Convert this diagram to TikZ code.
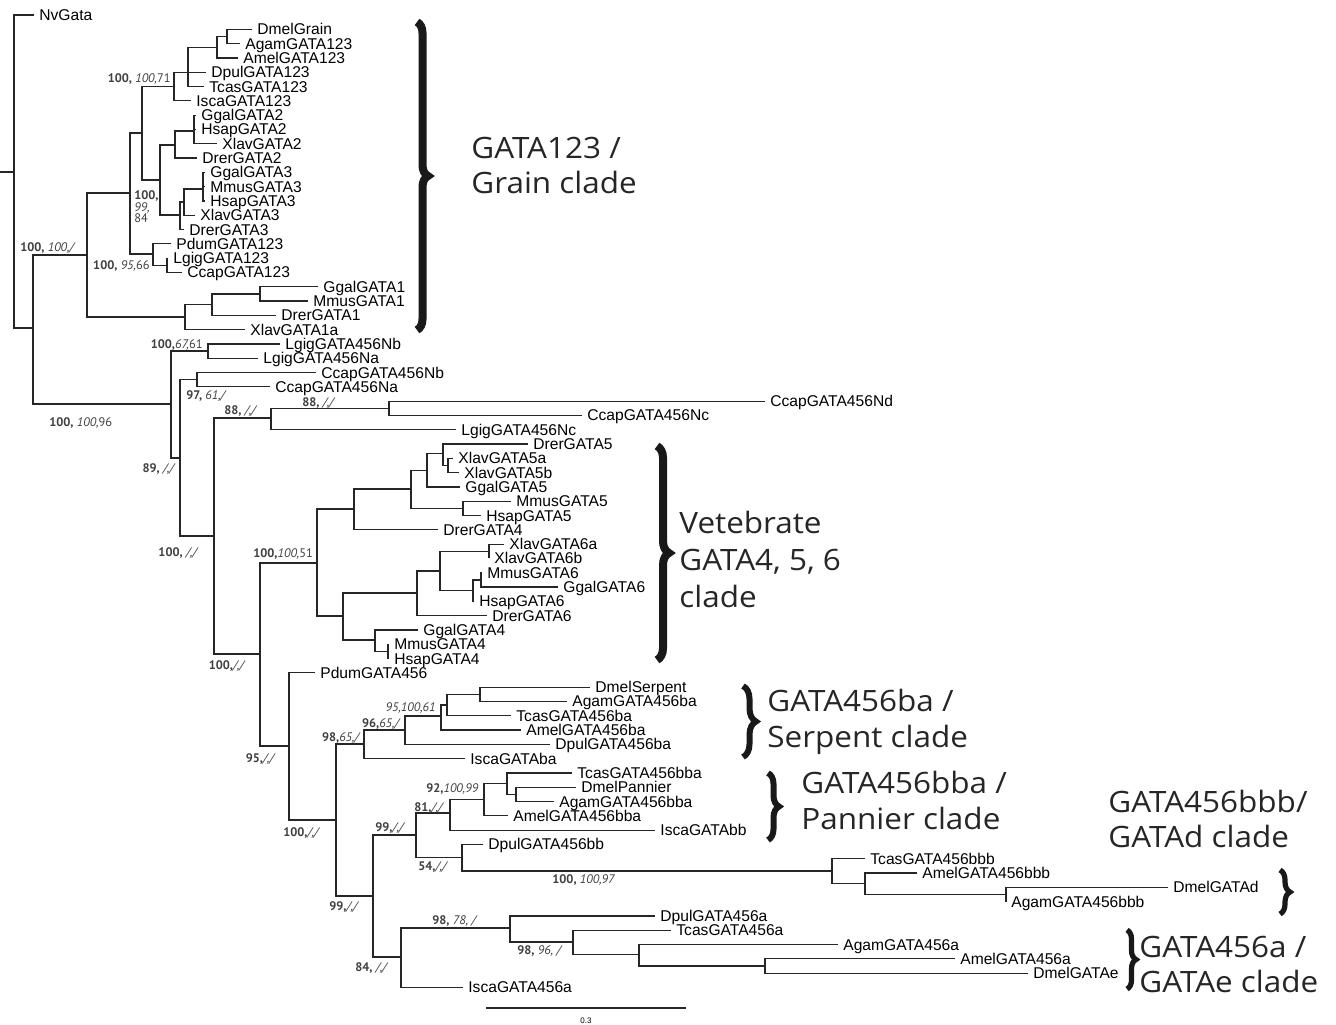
\documentclass[tikz,border=0pt]{standalone}
\usepackage{fontspec}
\setmainfont{Liberation Sans}
\newfontfamily\supfont{PT Sans}
\newfontfamily\cladefont[FakeStretch=1.07]{Open Sans}
\usetikzlibrary{decorations.pathreplacing}
\newcommand{\br}[3]{\draw[tree] (#2) -| (#1) |- (#3);}
\newcommand{\brm}[2]{\draw[tree] (#1 |- #2) -- (#2);}
\newcommand{\leafnode}[4]{\node[leaf] (#1) at (#2,#3) {#4};}
\begin{document}
\begin{tikzpicture}[x=0.5pt,y=-0.5pt,
  tree/.style={line width=0.6pt, black!85, line join=miter},
  leaf/.style={anchor=west, inner xsep=2.5pt, inner ysep=0pt, text height=5.55pt, text depth=0pt, font=\fontsize{7.8}{8}\selectfont},
  sup/.style={inner sep=0pt, text height=4.3pt, text depth=0pt, font=\supfont\fontsize{6.2}{7}\selectfont, text=black!75},
  clade/.style={anchor=base west, inner sep=0pt, font=\cladefont\fontsize{14.7}{18}\selectfont, text=black!85},
  cbrace/.style={decorate, decoration={brace, amplitude=#1}, black!90}]
\fill[white] (0,0) rectangle (1336,1024);
\useasboundingbox (0,0) rectangle (1336,1024);

% ---------- leaves ----------
\leafnode{nv}{34}{15}{NvGata}
\leafnode{dmgrain}{252}{29.3}{DmelGrain}
\leafnode{ag123}{240}{43.6}{AgamGATA123}
\leafnode{am123}{238}{57.9}{AmelGATA123}
\leafnode{dp123}{206}{72.2}{DpulGATA123}
\leafnode{tc123}{204}{86.5}{TcasGATA123}
\leafnode{is123}{191}{100.8}{IscaGATA123}
\leafnode{gg2}{196}{115.1}{GgalGATA2}
\leafnode{hs2}{196}{129.4}{HsapGATA2}
\leafnode{xl2}{217}{143.7}{XlavGATA2}
\leafnode{dr2}{197}{158}{DrerGATA2}
\leafnode{gg3}{205}{172.3}{GgalGATA3}
\leafnode{mm3}{205}{186.6}{MmusGATA3}
\leafnode{hs3}{205}{200.9}{HsapGATA3}
\leafnode{xl3}{195}{215.2}{XlavGATA3}
\leafnode{dr3}{184}{229.5}{DrerGATA3}
\leafnode{pd123}{171}{243.8}{PdumGATA123}
\leafnode{lg123}{168}{258.1}{LgigGATA123}
\leafnode{cc123}{182}{272.4}{CcapGATA123}
\leafnode{gg1}{318}{286.7}{GgalGATA1}
\leafnode{mm1}{308}{301}{MmusGATA1}
\leafnode{dr1}{276}{315.3}{DrerGATA1}
\leafnode{xl1a}{245}{329.6}{XlavGATA1a}
\leafnode{lgnb}{280}{343.9}{LgigGATA456Nb}
\leafnode{lgna}{258}{358.2}{LgigGATA456Na}
\leafnode{ccnb}{316}{372.5}{CcapGATA456Nb}
\leafnode{ccna}{270}{386.8}{CcapGATA456Na}
\leafnode{ccnd}{765}{401.1}{CcapGATA456Nd}
\leafnode{ccnc}{582}{415.4}{CcapGATA456Nc}
\leafnode{lgnc}{456}{429.7}{LgigGATA456Nc}
\leafnode{dr5}{528}{444}{DrerGATA5}
\leafnode{xl5a}{453}{458.3}{XlavGATA5a}
\leafnode{xl5b}{459}{472.6}{XlavGATA5b}
\leafnode{gg5}{460}{486.9}{GgalGATA5}
\leafnode{mm5}{511}{501.2}{MmusGATA5}
\leafnode{hs5}{481}{515.5}{HsapGATA5}
\leafnode{dr4}{438}{529.8}{DrerGATA4}
\leafnode{xl6a}{504}{544.1}{XlavGATA6a}
\leafnode{xl6b}{489}{558.4}{XlavGATA6b}
\leafnode{mm6}{482}{572.7}{MmusGATA6}
\leafnode{gg6}{558}{587}{GgalGATA6}
\leafnode{hs6}{474}{601.3}{HsapGATA6}
\leafnode{dr6}{487}{615.6}{DrerGATA6}
\leafnode{gg4}{418}{629.9}{GgalGATA4}
\leafnode{mm4}{389}{644.2}{MmusGATA4}
\leafnode{hs4}{389}{658.5}{HsapGATA4}
\leafnode{pd456}{315}{672.8}{PdumGATA456}
\leafnode{dmserp}{590}{687.1}{DmelSerpent}
\leafnode{agba}{567}{701.4}{AgamGATA456ba}
\leafnode{tcba}{511}{715.7}{TcasGATA456ba}
\leafnode{amba}{521}{730}{AmelGATA456ba}
\leafnode{dpba}{550}{744.3}{DpulGATA456ba}
\leafnode{isba}{465}{758.6}{IscaGATAba}
\leafnode{tcbba}{572}{772.9}{TcasGATA456bba}
\leafnode{dmpan}{576}{787.2}{DmelPannier}
\leafnode{agbba}{554}{801.5}{AgamGATA456bba}
\leafnode{ambba}{508}{815.8}{AmelGATA456bba}
\leafnode{isbb}{655}{830.1}{IscaGATAbb}
\leafnode{dpbb}{483}{844.4}{DpulGATA456bb}
\leafnode{tcbbb}{865}{858.7}{TcasGATA456bbb}
\leafnode{ambbb}{917}{873}{AmelGATA456bbb}
\leafnode{dmd}{1168}{887.3}{DmelGATAd}
\leafnode{agbbb}{1006}{901.6}{AgamGATA456bbb}
\leafnode{dpa}{655}{915.9}{DpulGATA456a}
\leafnode{tca}{671}{930.2}{TcasGATA456a}
\leafnode{aga}{838}{944.5}{AgamGATA456a}
\leafnode{ama}{955}{958.8}{AmelGATA456a}
\leafnode{dme}{1028}{973.1}{DmelGATAe}
\leafnode{isa}{463}{987.4}{IscaGATA456a}

% ---------- internal nodes ----------
\coordinate (rootstub) at (0,172);
\coordinate (root) at (14,172);
\coordinate (A) at (33,328);
\coordinate (B) at (87,255);
\coordinate (C) at (130,193);
\coordinate (D) at (142,133);
\coordinate (n174) at (174,86.5);
\coordinate (n188) at (188,72.2);
\coordinate (n217) at (217,47.2);
\coordinate (n227) at (227,36.5);
\coordinate (E) at (160,180);
\coordinate (n175) at (175,145);
\coordinate (n194) at (194,131);
\coordinate (n180) at (180,215);
\coordinate (n184) at (184,202);
\coordinate (n203) at (203,189);
\coordinate (loph) at (153,254);
\coordinate (n167) at (167,265.3);
\coordinate (g1) at (185,317);
\coordinate (n212) at (212,304.6);
\coordinate (n260) at (260,293.9);
\coordinate (G) at (171,404);
\coordinate (n208) at (208,351);
\coordinate (H) at (180,458);
\coordinate (n197) at (197,379.6);
\coordinate (J) at (214,536);
\coordinate (n271) at (271,418);
\coordinate (n389) at (389,408.3);
\coordinate (K) at (260,654);
\coordinate (VV) at (317,563);
\coordinate (n354) at (354,509);
\coordinate (n411) at (411,489);
\coordinate (n427) at (427,470.5);
\coordinate (n443) at (443,453.5);
\coordinate (n448) at (448,465.5);
\coordinate (n463) at (463,508.4);
\coordinate (n343) at (343,616);
\coordinate (n417) at (417,593);
\coordinate (n440) at (440,571);
\coordinate (n489) at (489,551.3);
\coordinate (n473) at (473,590.6);
\coordinate (n481) at (481,579.9);
\coordinate (n375) at (375,640);
\coordinate (n388) at (388,651.4);
\coordinate (L) at (289,746);
\coordinate (M) at (336,820);
\coordinate (N) at (364,744);
\coordinate (O) at (405,730);
\coordinate (S) at (441,716);
\coordinate (R) at (447,705);
\coordinate (Q) at (480,694.3);
\coordinate (P) at (373,896);
\coordinate (U) at (416,835);
\coordinate (X) at (450,813);
\coordinate (Y) at (484,799.7);
\coordinate (Z) at (507,783.6);
\coordinate (n516) at (516,794.4);
\coordinate (V) at (462,857.5);
\coordinate (W) at (832,871);
\coordinate (EE) at (865,883.5);
\coordinate (FF) at (1006,894.5);
\coordinate (n84) at (401,957);
\coordinate (AA) at (510,928);
\coordinate (BB) at (573,942);
\coordinate (CC) at (639,954.5);
\coordinate (DD) at (765,966);

% ---------- branches ----------
\draw[tree] (rootstub) -- (root);
\br{root}{nv.west}{A}
\br{A}{B}{G}
\br{B}{C}{g1}
\br{C}{D}{loph}
\br{D}{n174}{E}
\br{n174}{n188}{is123.west}
\br{n188}{n217}{tc123.west}
\brm{n188}{dp123.west}
\br{n217}{n227}{am123.west}
\br{n227}{dmgrain.west}{ag123.west}
\br{E}{n175}{n180}
\br{n175}{n194}{dr2.west}
\br{n194}{gg2.west}{xl2.west}
\brm{n194}{hs2.west}
\br{n180}{n184}{dr3.west}
\br{n184}{n203}{xl3.west}
\br{n203}{gg3.west}{hs3.west}
\brm{n203}{mm3.west}
\br{loph}{pd123.west}{n167}
\br{n167}{lg123.west}{cc123.west}
\br{g1}{n212}{xl1a.west}
\br{n212}{n260}{dr1.west}
\br{n260}{gg1.west}{mm1.west}
\br{G}{n208}{H}
\br{n208}{lgnb.west}{lgna.west}
\br{H}{n197}{J}
\br{n197}{ccnb.west}{ccna.west}
\br{J}{n271}{K}
\br{n271}{n389}{lgnc.west}
\br{n389}{ccnd.west}{ccnc.west}
\br{K}{VV}{L}
\br{VV}{n354}{n343}
\br{n354}{n411}{dr4.west}
\br{n411}{n427}{n463}
\br{n427}{n443}{gg5.west}
\br{n443}{dr5.west}{n448}
\br{n448}{xl5a.west}{xl5b.west}
\br{n463}{mm5.west}{hs5.west}
\br{n343}{n417}{n375}
\br{n417}{n440}{dr6.west}
\br{n440}{n489}{n473}
\br{n489}{xl6a.west}{xl6b.west}
\br{n473}{n481}{hs6.west}
\br{n481}{mm6.west}{gg6.west}
\br{n375}{gg4.west}{n388}
\br{n388}{mm4.west}{hs4.west}
\br{L}{pd456.west}{M}
\br{M}{N}{P}
\br{N}{O}{isba.west}
\br{O}{S}{dpba.west}
\br{S}{R}{amba.west}
\br{R}{Q}{tcba.west}
\br{Q}{dmserp.west}{agba.west}
\br{P}{U}{n84}
\br{U}{X}{V}
\br{X}{Y}{isbb.west}
\br{Y}{Z}{ambba.west}
\br{Z}{tcbba.west}{n516}
\br{n516}{dmpan.west}{agbba.west}
\br{V}{dpbb.west}{W}
\br{W}{tcbbb.west}{EE}
\br{EE}{ambbb.west}{FF}
\br{FF}{dmd.west}{agbbb.west}
\br{n84}{AA}{isa.west}
\br{AA}{dpa.west}{BB}
\br{BB}{tca.west}{CC}
\br{CC}{aga.west}{DD}
\br{DD}{ama.west}{dme.west}

% ---------- support values ----------
\node[sup,anchor=east] (s1) at (76,247) {\textbf{100,} \textit{100,/}};
\node[sup,anchor=east] (s2) at (171,78) {\textbf{100,} \textit{100,}71};
\node[sup,anchor=west] (s3a) at (134,195) {\textbf{100,}};
\node[sup,anchor=west] (s3b) at (134,207) {\textit{99,}};
\node[sup,anchor=west] (s3c) at (134,218) {84};
\node[sup,anchor=east] (s4) at (150,265) {\textbf{100,} \textit{95,}66};
\node[sup,anchor=east] (s5) at (203,344) {\textbf{100,}\textit{67,}61};
\node[sup,anchor=west] (s6) at (186,395) {\textbf{97,} \textit{61,/}};
\node[sup,anchor=west] (s7) at (224,410) {\textbf{88,} \textit{/,/}};
\node[sup,anchor=west] (s8) at (302,402) {\textbf{88,} \textit{/,/}};
\node[sup,anchor=west] (s9) at (49,422) {\textbf{100,} \textit{100,}96};
\node[sup,anchor=east] (s10) at (176,468) {\textbf{89,} \textit{/,/}};
\node[sup,anchor=east] (s11) at (199,552) {\textbf{100,} \textit{/,/}};
\node[sup,anchor=west] (s12) at (253,553) {\textbf{100,}\textit{100,}51};
\node[sup,anchor=east] (s13) at (246,665) {\textbf{100,}\textit{/,/}};
\node[sup,anchor=east] (s14) at (276,758) {\textbf{95,}\textit{/,/}};
\node[sup,anchor=east] (s15) at (436,707) {\textit{95,100,61}};
\node[sup,anchor=east] (s16) at (401,723) {\textbf{96,}\textit{65,/}};
\node[sup,anchor=east] (s17) at (361,737) {\textbf{98,}\textit{65,/}};
\node[sup,anchor=west] (s18) at (283,832) {\textbf{100,}\textit{/,/}};
\node[sup,anchor=west] (s19) at (426,788) {\textbf{92,}\textit{100,99}};
\node[sup,anchor=west] (s20) at (414,807) {\textbf{81,}\textit{/,/}};
\node[sup,anchor=west] (s21) at (375,827) {\textbf{99,}\textit{/,/}};
\node[sup,anchor=west] (s22) at (418,866) {\textbf{54,}\textit{/,/}};
\node[sup,anchor=west] (s23) at (552,879) {\textbf{100,} \textit{100,97}};
\node[sup,anchor=west] (s24) at (329,906) {\textbf{99,}\textit{/,/}};
\node[sup,anchor=west] (s25) at (432,920) {\textbf{98,} \textit{78, /}};
\node[sup,anchor=west] (s26) at (517,950) {\textbf{98,} \textit{96, /}};
\node[sup,anchor=west] (s27) at (355,967) {\textbf{84,} \textit{/,/}};

% ---------- clade braces ----------
\coordinate (b1t) at (417,22);   \coordinate (b1b) at (417,330);
\coordinate (b2t) at (657,446);  \coordinate (b2b) at (657,660);
\coordinate (b3t) at (743,686);  \coordinate (b3b) at (743,757);
\coordinate (b4t) at (768,773);  \coordinate (b4b) at (768,840);
\coordinate (b5t) at (1280,870); \coordinate (b5b) at (1280,914);
\coordinate (b6t) at (1127,930); \coordinate (b6b) at (1127,989);
\draw[cbrace=5.5pt, line width=4pt] (b1t) -- (b1b);
\draw[cbrace=6pt, line width=4pt] (b2t) -- (b2b);
\draw[cbrace=6.5pt, line width=3pt] (b3t) -- (b3b);
\draw[cbrace=5.5pt, line width=3pt] (b4t) -- (b4b);
\draw[cbrace=5pt, line width=2.6pt] (b5t) -- (b5b);
\draw[cbrace=4.5pt, line width=2.6pt] (b6t) -- (b6b);

% ---------- clade labels ----------
\node[clade] (c1a) at (471,158) {GATA123 /};
\node[clade] (c1b) at (471,193) {Grain clade};
\node[clade] (c2a) at (679,533) {Vetebrate};
\node[clade] (c2b) at (679,570) {GATA4, 5, 6};
\node[clade] (c2c) at (679,607) {clade};
\node[clade] (c3a) at (767,711) {GATA456ba /};
\node[clade] (c3b) at (767,747) {Serpent clade};
\node[clade] (c4a) at (801,793) {GATA456bba /};
\node[clade] (c4b) at (801,829) {Pannier clade};
\node[clade] (c5a) at (1108,812) {GATA456bbb/};
\node[clade] (c5b) at (1108,847) {GATAd clade};
\node[clade] (c6a) at (1139,957) {GATA456a /};
\node[clade] (c6b) at (1139,992) {GATAe clade};

% ---------- scale bar ----------
\coordinate (sb1) at (486,1008);
\coordinate (sb2) at (686,1008);
\draw[tree] (sb1) -- (sb2);
\node[inner sep=0pt, font=\fontsize{4}{4}\selectfont] (sbl) at (586,1021) {0.3};
\end{tikzpicture}
\end{document}
